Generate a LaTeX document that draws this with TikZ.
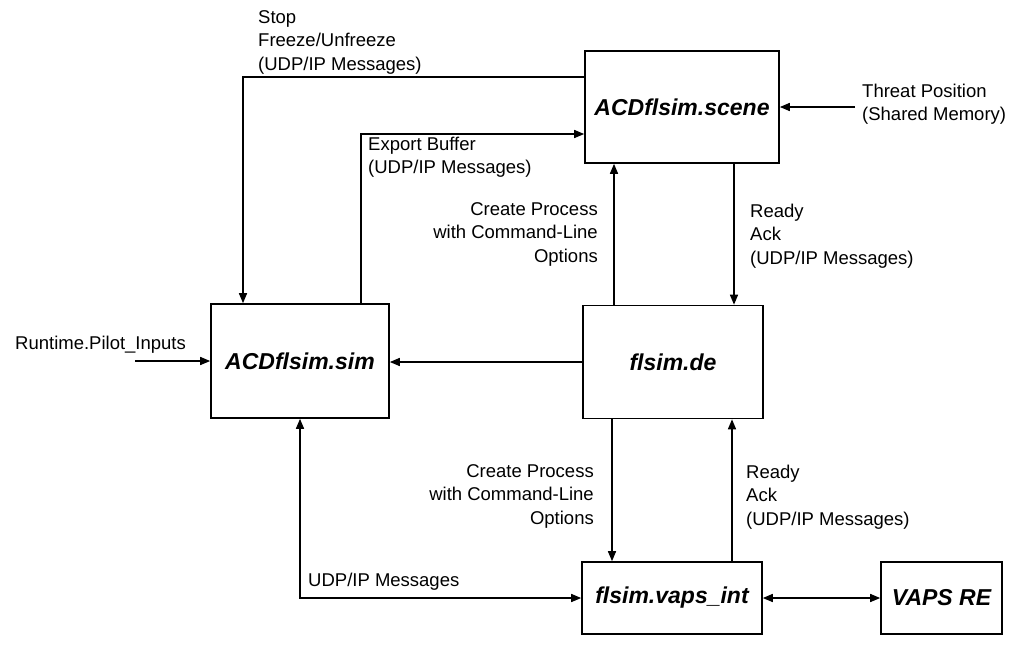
\documentclass[tikz,border=0pt]{standalone}
\usepackage{fontspec}
\setmainfont{Liberation Sans}
\usetikzlibrary{arrows.meta}
\tikzset{
  box/.style={draw, line width=1.6pt, rectangle, inner sep=0pt,
    font=\fontsize{23}{27}\selectfont\bfseries\itshape},
  lbl/.style={inner sep=0pt, font=\fontsize{18.5}{23.5}\selectfont},
  arr/.style={line width=1.5pt, -{Triangle[length=10pt,width=8pt]}},
  arrboth/.style={line width=1.5pt, {Triangle[length=10pt,width=8pt]}-{Triangle[length=10pt,width=8pt]}}
}
\begin{document}
\begin{tikzpicture}[x=1pt,y=-1pt]
\useasboundingbox[fill=white] (0,0) rectangle (1021,646);
% boxes
\node[box, minimum width=194pt, minimum height=112pt] (scene) at (682,107) {ACDflsim.scene};
\node[box, minimum width=178pt, minimum height=114pt] (sim) at (300,361) {ACDflsim.sim};
\node[box, minimum width=180pt, minimum height=113pt] (de) at (673,362) {flsim.de};
\node[box, minimum width=180pt, minimum height=72pt] (vaps) at (672,598) {flsim.vaps\_int};
\node[box, minimum width=121pt, minimum height=72pt] (re) at (941.5,598) {VAPS RE};
% labels
\node[lbl, anchor=west, align=left] (stoplbl) at (258,42) {Stop\\Freeze/Unfreeze\\(UDP/IP Messages)};
\node[lbl, anchor=west, align=left] (exportlbl) at (368,157) {Export Buffer\\(UDP/IP Messages)};
\node[lbl, anchor=east, align=right] (createup) at (598,234) {Create Process\\with Command-Line\\Options};
\node[lbl, anchor=west, align=left] (readyup) at (750,236) {Ready\\Ack\\(UDP/IP Messages)};
\node[lbl, anchor=east, align=right] (createlo) at (594,496) {Create Process\\with Command-Line\\Options};
\node[lbl, anchor=west, align=left] (readylo) at (746,497) {Ready\\Ack\\(UDP/IP Messages)};
\node[lbl, anchor=west] (runtime) at (15,345) {Runtime.Pilot\_Inputs};
\node[lbl, anchor=west] (udplbl) at (308,582) {UDP/IP Messages};
\node[lbl, anchor=west, align=left, inner sep=0pt] (threat) at (862,104) {Threat Position\\(Shared Memory)};
\coordinate (threatstart) at (855,107);
\coordinate (pilotstart) at (135,361);
% connectors
\draw[arr] ([yshift=30pt]scene.west) -| ([xshift=-57pt]sim.north);
\draw[arr] ([xshift=61pt]sim.north) |- ([yshift=-27pt]scene.west);
\draw[arr] (threatstart) -- (threatstart -| scene.east);
\draw[arr] ([xshift=-59pt]de.north) -- ([xshift=-59pt]de.north |- scene.south);
\draw[arr] ([xshift=52pt]scene.south) -- ([xshift=52pt]scene.south |- de.north);
\draw[arr] (de.west) -- (de.west -| sim.east);
\draw[arr] (pilotstart) -- (sim.west);
\draw[arr] ([xshift=-61pt]de.south) -- ([xshift=-61pt]de.south |- vaps.north);
\draw[arr] ([xshift=60pt]vaps.north) -- ([xshift=60pt]vaps.north |- de.south);
\draw[arrboth] (sim.south) |- (vaps.west);
\draw[arrboth] (vaps.east) -- (re.west);
\end{tikzpicture}
\end{document}
